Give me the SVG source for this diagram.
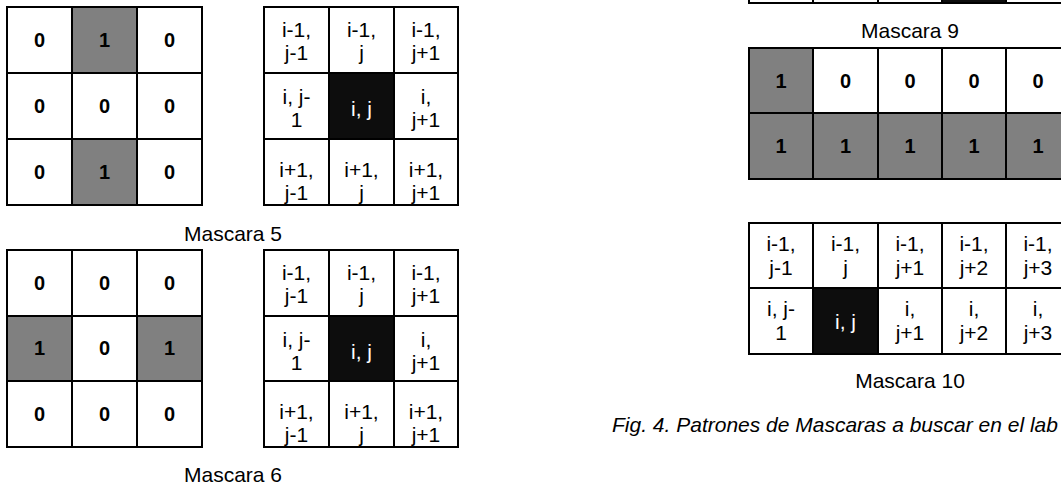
<svg xmlns="http://www.w3.org/2000/svg" width="1061" height="487" viewBox="0 0 1061 487">
  <style>
    .c { fill: #ffffff; stroke: #000000; stroke-width: 2; }
    .g { fill: #808080; stroke: #000000; stroke-width: 2; }
    .k { fill: #0d0d0d; stroke: #000000; stroke-width: 2; }
    .v { font-family: "Liberation Sans", Arial, sans-serif; font-size: 20px; font-weight: bold; fill: #000; text-anchor: middle; }
    .i { font-family: "Liberation Sans", Arial, sans-serif; font-size: 21px; fill: #000; text-anchor: middle; }
    .w { fill: #ffffff; }
    .lbl { font-family: "Liberation Sans", Arial, sans-serif; font-size: 21px; fill: #000; text-anchor: middle; }
    .cap { font-family: "Liberation Sans", Arial, sans-serif; font-size: 21px; font-style: italic; fill: #000; }
  </style>
  <rect width="1061" height="487" fill="#ffffff"/>

  <!-- Mascara 5: value grid -->
  <g id="mask5-values">
    <rect class="c" x="7" y="7" width="65" height="66"/>
    <rect class="g" x="72" y="7" width="65" height="66"/>
    <rect class="c" x="137" y="7" width="65" height="66"/>
    <rect class="c" x="7" y="73" width="65" height="66"/>
    <rect class="c" x="72" y="73" width="65" height="66"/>
    <rect class="c" x="137" y="73" width="65" height="66"/>
    <rect class="c" x="7" y="139" width="65" height="66"/>
    <rect class="g" x="72" y="139" width="65" height="66"/>
    <rect class="c" x="137" y="139" width="65" height="66"/>
    <text class="v" x="39.5" y="47">0</text>
    <text class="v" x="104.5" y="47">1</text>
    <text class="v" x="169.5" y="47">0</text>
    <text class="v" x="39.5" y="113">0</text>
    <text class="v" x="104.5" y="113">0</text>
    <text class="v" x="169.5" y="113">0</text>
    <text class="v" x="39.5" y="179">0</text>
    <text class="v" x="104.5" y="179">1</text>
    <text class="v" x="169.5" y="179">0</text>
  </g>

  <!-- Mascara 5: index grid -->
  <g id="mask5-index">
    <rect class="c" x="264" y="7" width="65" height="66"/>
    <rect class="c" x="329" y="7" width="65" height="66"/>
    <rect class="c" x="394" y="7" width="64" height="66"/>
    <rect class="c" x="264" y="73" width="65" height="66"/>
    <rect class="k" x="329" y="73" width="65" height="66"/>
    <rect class="c" x="394" y="73" width="64" height="66"/>
    <rect class="c" x="264" y="139" width="65" height="66"/>
    <rect class="c" x="329" y="139" width="65" height="66"/>
    <rect class="c" x="394" y="139" width="64" height="66"/>
    <text class="i" x="296.5" y="37">i-1,<tspan x="296.5" dy="23">j-1</tspan></text>
    <text class="i" x="361.5" y="37">i-1,<tspan x="361.5" dy="23">j</tspan></text>
    <text class="i" x="426" y="37">i-1,<tspan x="426" dy="23">j+1</tspan></text>
    <text class="i" x="296.5" y="104">i, j-<tspan x="296.5" dy="23">1</tspan></text>
    <text class="i w" x="361.5" y="116">i, j</text>
    <text class="i" x="426" y="104">i,<tspan x="426" dy="23">j+1</tspan></text>
    <text class="i" x="296.5" y="177">i+1,<tspan x="296.5" dy="23">j-1</tspan></text>
    <text class="i" x="361.5" y="177">i+1,<tspan x="361.5" dy="23">j</tspan></text>
    <text class="i" x="426" y="177">i+1,<tspan x="426" dy="23">j+1</tspan></text>
  </g>
  <text class="lbl" x="233" y="241">Mascara 5</text>

  <!-- Mascara 6: value grid -->
  <g id="mask6-values">
    <rect class="c" x="7" y="250" width="65" height="66"/>
    <rect class="c" x="72" y="250" width="65" height="66"/>
    <rect class="c" x="137" y="250" width="65" height="66"/>
    <rect class="g" x="7" y="316" width="65" height="65"/>
    <rect class="c" x="72" y="316" width="65" height="65"/>
    <rect class="g" x="137" y="316" width="65" height="65"/>
    <rect class="c" x="7" y="381" width="65" height="66"/>
    <rect class="c" x="72" y="381" width="65" height="66"/>
    <rect class="c" x="137" y="381" width="65" height="66"/>
    <text class="v" x="39.5" y="290">0</text>
    <text class="v" x="104.5" y="290">0</text>
    <text class="v" x="169.5" y="290">0</text>
    <text class="v" x="39.5" y="355">1</text>
    <text class="v" x="104.5" y="355">0</text>
    <text class="v" x="169.5" y="355">1</text>
    <text class="v" x="39.5" y="421">0</text>
    <text class="v" x="104.5" y="421">0</text>
    <text class="v" x="169.5" y="421">0</text>
  </g>

  <!-- Mascara 6: index grid -->
  <g id="mask6-index">
    <rect class="c" x="264" y="250" width="65" height="66"/>
    <rect class="c" x="329" y="250" width="65" height="66"/>
    <rect class="c" x="394" y="250" width="64" height="66"/>
    <rect class="c" x="264" y="316" width="65" height="65"/>
    <rect class="k" x="329" y="316" width="65" height="65"/>
    <rect class="c" x="394" y="316" width="64" height="65"/>
    <rect class="c" x="264" y="381" width="65" height="66"/>
    <rect class="c" x="329" y="381" width="65" height="66"/>
    <rect class="c" x="394" y="381" width="64" height="66"/>
    <text class="i" x="296.5" y="280">i-1,<tspan x="296.5" dy="23">j-1</tspan></text>
    <text class="i" x="361.5" y="280">i-1,<tspan x="361.5" dy="23">j</tspan></text>
    <text class="i" x="426" y="280">i-1,<tspan x="426" dy="23">j+1</tspan></text>
    <text class="i" x="296.5" y="347">i, j-<tspan x="296.5" dy="23">1</tspan></text>
    <text class="i w" x="361.5" y="359">i, j</text>
    <text class="i" x="426" y="347">i,<tspan x="426" dy="23">j+1</tspan></text>
    <text class="i" x="296.5" y="419">i+1,<tspan x="296.5" dy="23">j-1</tspan></text>
    <text class="i" x="361.5" y="419">i+1,<tspan x="361.5" dy="23">j</tspan></text>
    <text class="i" x="426" y="419">i+1,<tspan x="426" dy="23">j+1</tspan></text>
  </g>
  <text class="lbl" x="233" y="482">Mascara 6</text>

  <!-- index grid continuing above the top edge -->
  <g id="mask8-index">
    <rect class="c" x="749" y="-62" width="64" height="65"/>
    <rect class="c" x="813" y="-62" width="65" height="65"/>
    <rect class="c" x="878" y="-62" width="64" height="65"/>
    <rect class="k" x="942" y="-62" width="64" height="65"/>
    <rect class="c" x="1006" y="-62" width="65" height="65"/>
  </g>
  <text class="lbl" x="910" y="38">Mascara 9</text>

  <!-- Mascara 9: value grid -->
  <g id="mask9-values">
    <rect class="g" x="749" y="48" width="64" height="65"/>
    <rect class="c" x="813" y="48" width="65" height="65"/>
    <rect class="c" x="878" y="48" width="64" height="65"/>
    <rect class="c" x="942" y="48" width="64" height="65"/>
    <rect class="c" x="1006" y="48" width="65" height="65"/>
    <rect class="g" x="749" y="113" width="64" height="66"/>
    <rect class="g" x="813" y="113" width="65" height="66"/>
    <rect class="g" x="878" y="113" width="64" height="66"/>
    <rect class="g" x="942" y="113" width="64" height="66"/>
    <rect class="g" x="1006" y="113" width="65" height="66"/>
    <text class="v" x="781" y="88">1</text>
    <text class="v" x="845.5" y="88">0</text>
    <text class="v" x="910" y="88">0</text>
    <text class="v" x="974" y="88">0</text>
    <text class="v" x="1038" y="88">0</text>
    <text class="v" x="781" y="153">1</text>
    <text class="v" x="845.5" y="153">1</text>
    <text class="v" x="910" y="153">1</text>
    <text class="v" x="974" y="153">1</text>
    <text class="v" x="1038" y="153">1</text>
  </g>

  <!-- Mascara 10: index grid -->
  <g id="mask10-index">
    <rect class="c" x="749" y="223" width="64" height="65"/>
    <rect class="c" x="813" y="223" width="65" height="65"/>
    <rect class="c" x="878" y="223" width="64" height="65"/>
    <rect class="c" x="942" y="223" width="64" height="65"/>
    <rect class="c" x="1006" y="223" width="65" height="65"/>
    <rect class="c" x="749" y="288" width="64" height="66"/>
    <rect class="k" x="813" y="288" width="65" height="66"/>
    <rect class="c" x="878" y="288" width="64" height="66"/>
    <rect class="c" x="942" y="288" width="64" height="66"/>
    <rect class="c" x="1006" y="288" width="65" height="66"/>
    <text class="i" x="781" y="251">i-1,<tspan x="781" dy="24">j-1</tspan></text>
    <text class="i" x="845.5" y="251">i-1,<tspan x="845.5" dy="24">j</tspan></text>
    <text class="i" x="910" y="251">i-1,<tspan x="910" dy="24">j+1</tspan></text>
    <text class="i" x="974" y="251">i-1,<tspan x="974" dy="24">j+2</tspan></text>
    <text class="i" x="1038" y="251">i-1,<tspan x="1038" dy="24">j+3</tspan></text>
    <text class="i" x="781" y="316">i, j-<tspan x="781" dy="24">1</tspan></text>
    <text class="i w" x="845.5" y="329">i, j</text>
    <text class="i" x="910" y="316">i,<tspan x="910" dy="24">j+1</tspan></text>
    <text class="i" x="974" y="316">i,<tspan x="974" dy="24">j+2</tspan></text>
    <text class="i" x="1038" y="316">i,<tspan x="1038" dy="24">j+3</tspan></text>
  </g>
  <text class="lbl" x="910" y="388">Mascara 10</text>

  <text class="cap" x="612" y="432">Fig. 4. Patrones de Mascaras a buscar en el lab</text>
</svg>
